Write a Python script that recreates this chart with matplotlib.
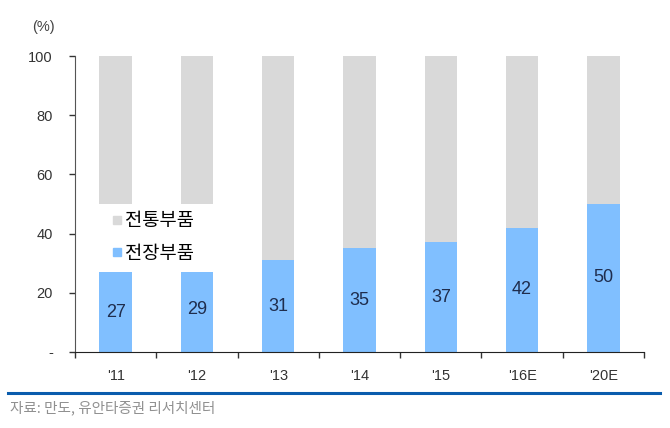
import matplotlib
matplotlib.use("Agg")
import matplotlib.pyplot as plt
from matplotlib.lines import Line2D
from matplotlib.patches import Rectangle
import numpy as np

plt.rcParams['font.family'] = ['Liberation Sans', 'Noto Sans CJK KR', 'DejaVu Sans']

categories = ["'11", "'12", "'13", "'14", "'15", "'16E", "'20E"]
elec_parts = [27, 29, 31, 35, 37, 42, 50]          # 전장부품
trad_parts = [100 - v for v in elec_parts]          # 전통부품
ytick_vals = [0, 20, 40, 60, 80, 100]
ytick_labels = ['-', '20', '40', '60', '80', '100']

blue = '#80BFFF'
gray = '#D9D9D9'

fig = plt.figure(figsize=(6.7, 4.28), dpi=100)
ax = fig.add_axes([75/670, 1 - 352/428, 569/670, 296/428])

x = np.arange(len(categories))
ax.bar(x, elec_parts, width=0.4, color=blue, zorder=2)
ax.bar(x, trad_parts, width=0.4, bottom=elec_parts, color=gray, zorder=2)

for xi, v in zip(x, elec_parts):
    ax.text(xi, v / 2, str(v), ha='center', va='center', fontsize=13,
            color='#1F2D4D', zorder=5)

# white legend background area
ax.add_patch(Rectangle((-0.45, 27), 1.95, 23, facecolor='white', edgecolor='none', zorder=3))

handles = [Line2D([], [], marker='s', linestyle='none', markersize=6, color=gray),
           Line2D([], [], marker='s', linestyle='none', markersize=6, color=blue)]
leg = ax.legend(handles, ['전통부품', '전장부품'], loc='center left',
                bbox_to_anchor=(102/670, 1 - 237/428), bbox_transform=fig.transFigure,
                frameon=False, handlelength=0.6, handletextpad=0.15,
                labelspacing=0.6, borderpad=0, prop={'family': ['Noto Sans CJK KR'], 'size': 13.5})
leg.set_zorder(6)

ax.set_xlim(-0.5, len(categories) - 0.5)
ax.set_ylim(0, 100)
ax.set_yticks(ytick_vals)
ax.set_yticklabels(ytick_labels)
ax.tick_params(axis='y', direction='out', length=4, width=1, pad=12, labelsize=10.5,
               colors='#333333')

ax.set_xticks(np.arange(len(categories) + 1) - 0.5)
ax.set_xticklabels([])
ax.tick_params(axis='x', which='major', direction='out', length=4, width=1, colors='#333333')
ax.set_xticks(x, minor=True)
ax.set_xticklabels(categories, minor=True)
ax.tick_params(axis='x', which='minor', length=0, pad=12, labelsize=10.5, labelcolor='#333333')

for s in ['top', 'right']:
    ax.spines[s].set_visible(False)
ax.spines['left'].set_color('#555555')
ax.spines['bottom'].set_color('#222222')
ax.spines['left'].set_zorder(7)
ax.spines['bottom'].set_zorder(7)

fig.text(43/670, 1 - 27/428, '(%)', ha='center', va='center', fontsize=10.5, color='#444444')

fig.add_artist(Line2D([8/670, 660/670], [1 - 393/428, 1 - 393/428], color='#0A5CAD', lw=2.2,
                      transform=fig.transFigure))
fig.text(10/670, 1 - 408/428, '자료: 만도, 유안타증권 리서치센터', ha='left', va='center',
         fontsize=10.5, color='#909090', family=['Noto Sans CJK KR'])

fig.savefig('out.png', dpi=100)
